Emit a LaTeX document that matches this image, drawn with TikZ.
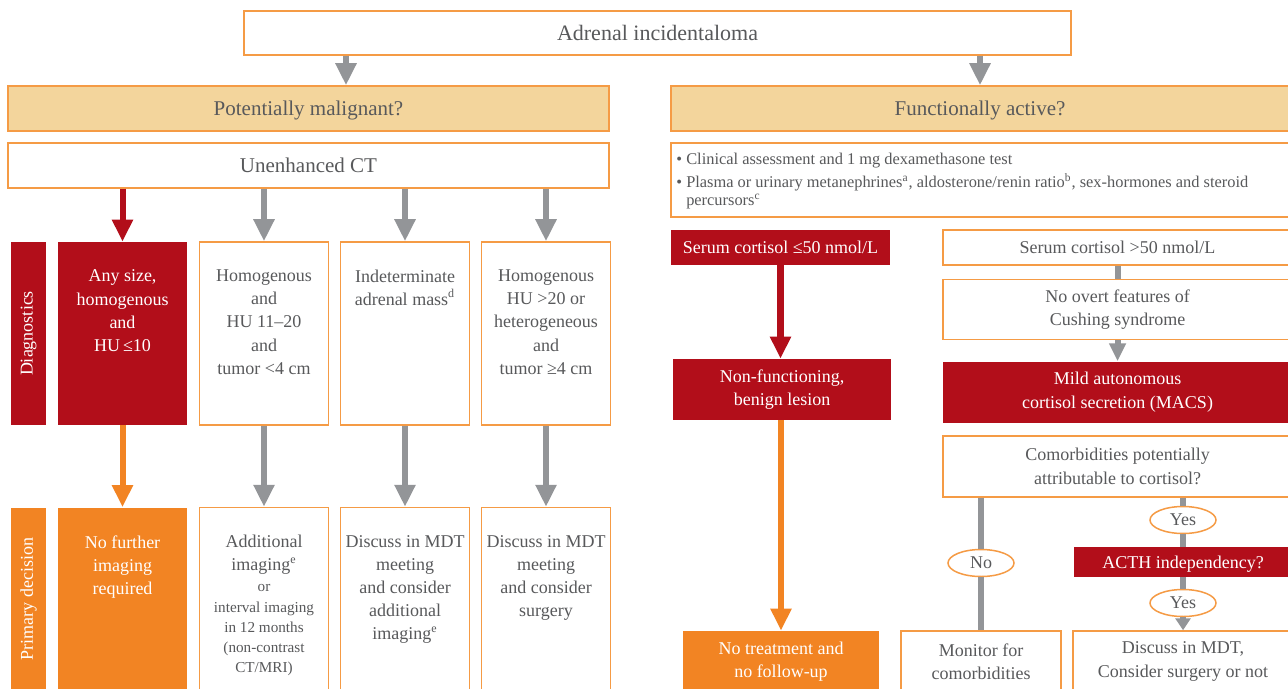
\documentclass[tikz,border=0pt]{standalone}
\usepackage{fontspec}
\setmainfont{Liberation Serif}
\usetikzlibrary{arrows.meta,positioning,shapes.geometric}
\definecolor{boxorange}{HTML}{F59B45}
\definecolor{headbeige}{HTML}{F3D59C}
\definecolor{alarmred}{HTML}{B20E1A}
\definecolor{fillorange}{HTML}{F28423}
\definecolor{arrowgray}{HTML}{939598}
\definecolor{textgray}{HTML}{58595B}
\newcommand{\smalltxt}{\fontsize{7.6}{9}\selectfont}

\begin{document}
\begin{tikzpicture}[x=0.5pt, y=-0.5pt, text=textgray,
  font=\fontsize{9}{11.6}\selectfont,
  box/.style={draw=boxorange, line width=0.75pt, fill=white, align=center, inner sep=0pt},
  headbox/.style={box, fill=headbeige, font=\fontsize{10.5}{13}\selectfont, text depth=0pt},
  redbox/.style={fill=alarmred, text=white, align=center, inner sep=0pt},
  orbox/.style={fill=fillorange, text=white, align=center, inner sep=0pt},
  col/.style={minimum width=64.5pt, minimum height=91.5pt},
  side/.style={rotate=90, minimum width=91.5pt, minimum height=17.5pt},
  txt/.style={align=center, inner sep=0pt},
  yesno/.style={ellipse, draw=boxorange, line width=0.75pt, fill=white, inner sep=0pt,
                minimum width=33pt, minimum height=13.5pt},
  a/.style={draw=arrowgray, line width=3pt, -{Triangle[length=11pt,width=10pt]}},
  asm/.style={draw=arrowgray, line width=3pt, -{Triangle[length=6pt,width=7.5pt]}},
  ln/.style={draw=arrowgray, line width=3pt}]
\useasboundingbox (0,0) rectangle (1288,689);
\clip (0,0) rectangle (1288,689);
\fill[white] (0,0) rectangle (1288,689);

\node[box, minimum width=413.5pt, minimum height=22pt, font=\fontsize{11}{13}\selectfont] (top)
  at (657.5,33) {Adrenal incidentaloma};
\coordinate (mal) at (346,0);

% left column
\node[headbox, minimum width=300.5pt, minimum height=22.5pt] (pm) at (308.5,108.5) {Potentially malignant?};
\node[box, minimum width=300.5pt, minimum height=22.5pt, font=\fontsize{10.5}{13}\selectfont] (ct)
  at (308.5,165.5) {Unenhanced CT};

\node[redbox, side] (diag) at (28.5,333.5) {Diagnostics};
\node[redbox, col] (d1) at (122.5,333.5) {};
\node[box, col] (d2) at (264,333.5) {};
\node[box, col] (d3) at (405,333.5) {};
\node[box, col] (d4) at (546,333.5) {};
\node[txt, text=white, below=14pt of d1.north] (d1t) {Any size,\\homogenous\\and\\HU\,≤10};
\node[txt, below=14pt of d2.north] (d2t) {Homogenous\\and\\HU 11–20\\and\\tumor <4 cm};
\node[txt, below=14pt of d3.north] (d3t) {Indeterminate\\adrenal mass\textsuperscript{d}};
\node[txt, below=14pt of d4.north] (d4t) {Homogenous\\HU >20 or\\heterogeneous\\and\\tumor ≥4 cm};

\node[orbox, side] (prim) at (28.5,599) {Primary decision};
\node[orbox, col] (p1) at (122.5,599) {};
\node[box, col] (p2) at (264,599) {};
\node[box, col] (p3) at (405,599) {};
\node[box, col] (p4) at (546,599) {};
\node[txt, text=white, below=14pt of p1.north] (p1t) {No further\\imaging\\required};
\node[txt, below=14pt of p2.north] (p2t) {Additional\\imaging\textsuperscript{e}\\[-1.2pt]
  {\smalltxt or}\\[-1.4pt]{\smalltxt interval imaging}\\[-1.4pt]{\smalltxt in 12 months}\\[-1.4pt]
  {\smalltxt (non-contrast}\\[-1.8pt]{\smalltxt CT/MRI)}};
\node[txt, below=14pt of p3.north] (p3t) {Discuss in MDT\\meeting\\and consider\\additional\\imaging\textsuperscript{e}};
\node[txt, below=14pt of p4.north] (p4t) {Discuss in MDT\\meeting\\and consider\\surgery};

% right column
\node[headbox, minimum width=309pt, minimum height=22.5pt] (fa) at (980,108.5) {Functionally active?};
\node[box, minimum width=309pt, minimum height=37pt] (tests) at (980,180) {};
\node[txt, align=left, anchor=north west, font=\fontsize{8.2}{9}\selectfont] (testst) at (676,153)
  {• Clinical assessment and 1 mg dexamethasone test\\[2.2pt]
   • Plasma or urinary metanephrines\textsuperscript{a}, aldosterone/renin ratio\textsuperscript{b}, sex-hormones and steroid\\
   \phantom{• }percursors\textsuperscript{c}};

\node[redbox, minimum width=109.5pt, minimum height=17.5pt] (lo) at (780.5,247.5) {Serum cortisol ≤50 nmol/L};
\node[box, minimum width=174.5pt, minimum height=17.5pt] (hi) at (1117.5,247.5) {Serum cortisol >50 nmol/L};
\node[box, minimum width=174.5pt, minimum height=30pt, below=6.5pt of hi] (cush)
  {No overt features of\\Cushing syndrome};
\node[redbox, minimum width=174.5pt, minimum height=30.5pt, below=10.5pt of cush] (macs)
  {Mild autonomous\\cortisol secretion (MACS)};
\node[box, minimum width=174.5pt, minimum height=30.5pt, below=6pt of macs] (cm)
  {Comorbidities potentially\\attributable to cortisol?};
\node[redbox, minimum width=109pt, minimum height=30.5pt] (nonf) at (782,389.5) {Non-functioning,\\benign lesion};
\node[redbox, minimum width=109pt, minimum height=15pt, text depth=0pt] (acth) at (1183,562) {ACTH independency?};
\node[orbox, minimum width=98pt, minimum height=30.5pt] (notr) at (781,661.5) {No treatment and\\no follow-up};
\node[box, minimum width=80pt, minimum height=30.5pt] (mon) at (981,661.5) {Monitor for\\comorbidities};
\node[box, minimum width=110pt, minimum height=30.5pt] (disc) at (1183,661.5) {Discuss in MDT,\\Consider surgery or not};
\node[yesno] (no) at (981,563) {No};
\node[yesno] (yes1) at (1183,520) {Yes};
\node[yesno] (yes2) at (1183,603) {Yes};

\draw[a] (top.south -| mal) -- (pm.north -| mal); \draw[a] (top.south -| fa) -- (fa.north);
\draw[a, draw=alarmred] (ct.south -| d1) -- (d1.north);
\draw[a] (ct.south -| d2) -- (d2.north); \draw[a] (ct.south -| d3) -- (d3.north);
\draw[a] (ct.south -| d4) -- (d4.north);
\draw[a, draw=fillorange] (d1) -- (p1);
\draw[a] (d2) -- (p2); \draw[a] (d3) -- (p3); \draw[a] (d4) -- (p4);
\draw[a, draw=alarmred, line width=3.5pt] (lo.south) -- (lo.south |- nonf.north);
\draw[a, draw=fillorange] (nonf.south -| notr) -- (notr);
\draw[ln] (hi) -- (cush);
\draw[a, -{Triangle[length=9pt,width=8pt]}] (cush) -- (macs);
\draw[ln] (cm.south -| no) -- (no) -- (mon);
\draw[ln] (cm.south -| yes1) -- (yes1) -- (acth);
\draw[asm] (acth) -- (yes2) -- (disc);
\end{tikzpicture}
\end{document}
